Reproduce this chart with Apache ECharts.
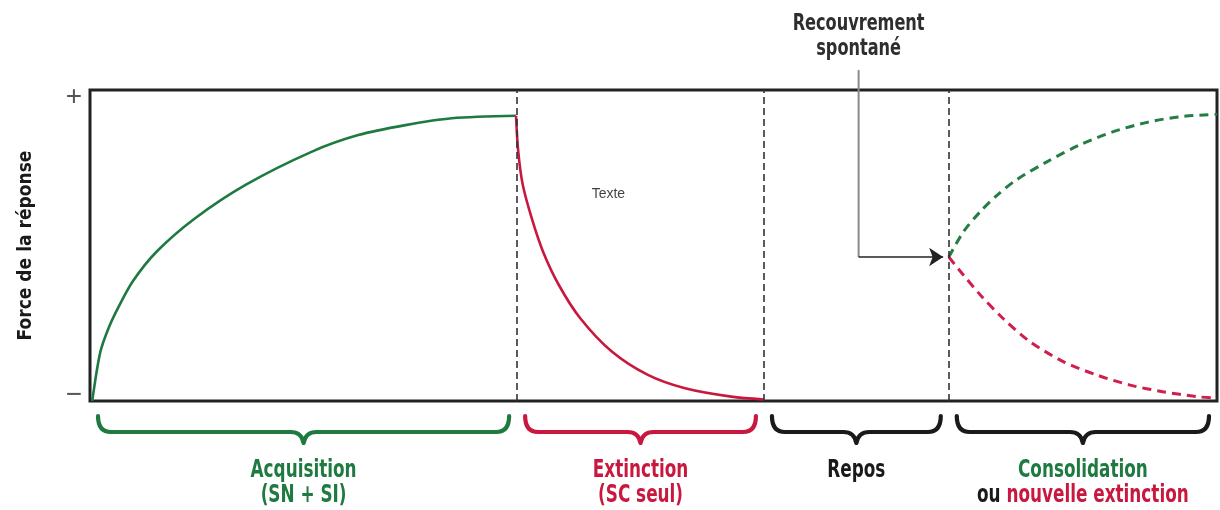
<!DOCTYPE html>
<html>
<head>
<meta charset="utf-8">
<script src="https://cdn.jsdelivr.net/npm/echarts@6/dist/echarts.min.js"></script>
<style>
html,body{margin:0;padding:0;background:#fff;}
#chart{width:1220px;height:510px;}
</style>
</head>
<body>
<div id="chart"></div>
<script>
// ---- data (time in arbitrary units 0..100, response strength 0..100) ----
const phaseBounds = [0, 37.9, 59.8, 76.2, 100];
const phaseLabels = [
  '{g|Acquisition}\n{g|(SN + SI)}',
  '{r|Extinction}\n{r|(SC seul)}',
  '{k|Repos}',
  '{g|Consolidation}\n{k|ou }{r|nouvelle extinction}'
];
const acqX = [0.2, 0.9, 1.6, 2.5, 3.8, 5.9, 9.3, 13.8, 19.7, 23.8, 28.0, 32.1, 37.8];
const acqY = [0, 15.5, 23.0, 30.0, 38.5, 48.0, 58.7, 69.5, 80.2, 85.5, 88.7, 90.9, 91.7];
const extX = [37.8, 38.0, 38.4, 39.2, 40.2, 41.6, 43.5, 46.3, 49.5, 52.8, 56.9, 59.8];
const extY = [91.7, 80.2, 69.5, 58.7, 48.0, 37.3, 26.6, 15.9, 8.4, 4.1, 1.4, 0.5];
const consX = [76.2, 77.5, 79.0, 80.5, 82.2, 84.9, 87.8, 90.8, 93.8, 96.7, 100];
const consY = [46.3, 54.4, 60.9, 66.2, 71.1, 76.9, 82.3, 86.6, 89.6, 91.4, 92.2];
const reextX = [76.2, 77.5, 79.0, 81.0, 83.4, 86.4, 89.3, 92.3, 95.2, 98.2, 100];
const reextY = [46.3, 40.5, 34.1, 26.6, 19.1, 12.6, 8.4, 5.1, 3.0, 1.4, 0.9];
const recoveryArrow = [[68.2, 106.4], [68.2, 46.3], [75.7, 46.3]];
const recoveryLabel = 'Recouvrement\nspontané';
const noteText = 'Texte';
const notePos = [46.0, 66.6];
const yTickLabels = {0: '−', 100: '+'};
const yAxisName = 'Force de la réponse';

// ---- styling ----
const GREEN = '#1e7a40';
const RED = '#c8183f';
const CFONT = "'Liberation Sans Narrow', 'DejaVu Sans Condensed', 'Noto Sans', sans-serif";
const braceColors = [GREEN, RED, '#1a1a1a', '#1a1a1a'];
const zip = (xs, ys) => xs.map((x, i) => [x, ys[i]]);
const condensed = c => ({fill: c, fontFamily: CFONT, fontWeight: 'bold', fontSize: 24, lineHeight: 25});

const chart = echarts.init(document.getElementById('chart'), null, {renderer: 'canvas'});

const phaseData = phaseBounds.slice(0, -1).map((s, i) => [s, phaseBounds[i + 1], i]);

function renderBrace(params, api) {
  const i = api.value(2);
  const a = api.coord([api.value(0), 0]);
  const b = api.coord([api.value(1), 0]);
  const base = a[1];
  const x0 = a[0] + 8, x1 = b[0] - 8, xc = (a[0] + b[0]) / 2;
  const top = base + 15, flat = base + 31, tip = base + 42;
  const r = 13;
  const d = `M${x0},${top} Q${x0},${flat} ${x0 + r},${flat} L${xc - r},${flat} Q${xc - 2},${flat} ${xc},${tip} Q${xc + 2},${flat} ${xc + r},${flat} L${x1 - r},${flat} Q${x1},${flat} ${x1},${top}`;
  return {
    type: 'group',
    children: [
      {type: 'path', shape: {pathData: d}, style: {fill: 'none', stroke: braceColors[i], lineWidth: 4.2, lineCap: 'round', lineJoin: 'round'}},
      {type: 'text', x: xc, y: base + 57, scaleX: 0.78, style: {
        text: phaseLabels[i], align: 'center', verticalAlign: 'top',
        rich: {g: condensed(GREEN), r: condensed(RED), k: condensed('#1a1a1a')}
      }}
    ]
  };
}

function renderRecoveryLabel(params, api) {
  const p = api.coord([api.value(0), api.value(1)]);
  return {
    type: 'text', x: p[0], y: p[1] - 9, scaleX: 0.78,
    style: {text: recoveryLabel, align: 'center', verticalAlign: 'bottom',
      fill: '#2e2e2e', fontFamily: CFONT, fontWeight: 'bold', fontSize: 23, lineHeight: 25}
  };
}

const option = {
  animation: false,
  backgroundColor: '#fff',
  grid: {left: 90, right: 3, top: 90, bottom: 109, show: true, borderColor: '#222', borderWidth: 3, backgroundColor: 'transparent'},
  xAxis: {type: 'value', min: 0, max: 100, axisLine: {show: false}, axisTick: {show: false}, axisLabel: {show: false}, splitLine: {show: false}},
  yAxis: {
    type: 'value', min: 0, max: 100, interval: 100,
    axisLine: {show: false}, axisTick: {show: false}, splitLine: {show: false},
    axisLabel: {
      margin: 8,
      formatter: v => (v === 100 ? '{p|' : '{m|') + yTickLabels[v] + '}',
      rich: {
        p: {fontSize: 28, color: '#555', fontFamily: 'Liberation Sans', padding: [14, 0, 0, 0]},
        m: {fontSize: 28, color: '#555', fontFamily: 'Liberation Sans', padding: [0, 0, 12, 0]}
      }
    },
    name: yAxisName, nameLocation: 'middle', nameRotate: 90, nameGap: 54,
    nameTextStyle: {fontFamily: CFONT, fontWeight: 'bold', fontSize: 19, color: '#1a1a1a'}
  },
  series: [
    {
      name: 'Acquisition', type: 'line', data: zip(acqX, acqY), smooth: 0.3, symbol: 'none',
      lineStyle: {color: GREEN, width: 2.6}, z: 3,
      markLine: {
        silent: true, symbol: 'none', label: {show: false},
        lineStyle: {color: '#333', width: 1.6, type: [7, 4]},
        data: phaseBounds.slice(1, -1).map(v => ({xAxis: v}))
      }
    },
    {
      name: 'Extinction', type: 'line', data: zip(extX, extY), smooth: 0.3, symbol: 'none',
      lineStyle: {color: RED, width: 2.6}, z: 3
    },
    {
      name: 'Consolidation', type: 'line', data: zip(consX, consY), smooth: 0.3, symbol: 'none',
      lineStyle: {color: '#247d44', width: 3, type: [9, 6]}, z: 3
    },
    {
      name: 'Nouvelle extinction', type: 'line', data: zip(reextX, reextY), smooth: 0.3, symbol: 'none',
      lineStyle: {color: '#d01e4d', width: 3, type: [9, 6]}, z: 3
    },
    {
      name: 'recovery-stem', type: 'line', data: recoveryArrow.slice(0, 2), clip: false, symbol: 'none',
      lineStyle: {color: '#8a8a8a', width: 2}, z: 4,
      markLine: {
        silent: true, symbol: ['none', 'arrow'], symbolSize: 14, label: {show: false},
        lineStyle: {color: '#222', width: 1.5, type: 'solid'},
        data: [[{coord: recoveryArrow[1]}, {coord: recoveryArrow[2]}]]
      }
    },
    {
      name: 'recovery-label', type: 'custom', clip: false, silent: true, renderItem: renderRecoveryLabel,
      encode: {x: 0, y: 1}, data: [recoveryArrow[0]]
    },
    {
      name: 'notes', type: 'scatter', clip: false, symbolSize: 0, silent: true,
      data: [
        {value: notePos, label: {show: true, position: 'inside', formatter: noteText,
          fontFamily: 'Liberation Sans', fontSize: 14, color: '#111'}}
      ]
    },
    {
      name: 'phases', type: 'custom', clip: false, silent: true, renderItem: renderBrace,
      encode: {x: [0, 1]}, data: phaseData, z: 2
    }
  ]
};
chart.setOption(option);
</script>
</body>
</html>
